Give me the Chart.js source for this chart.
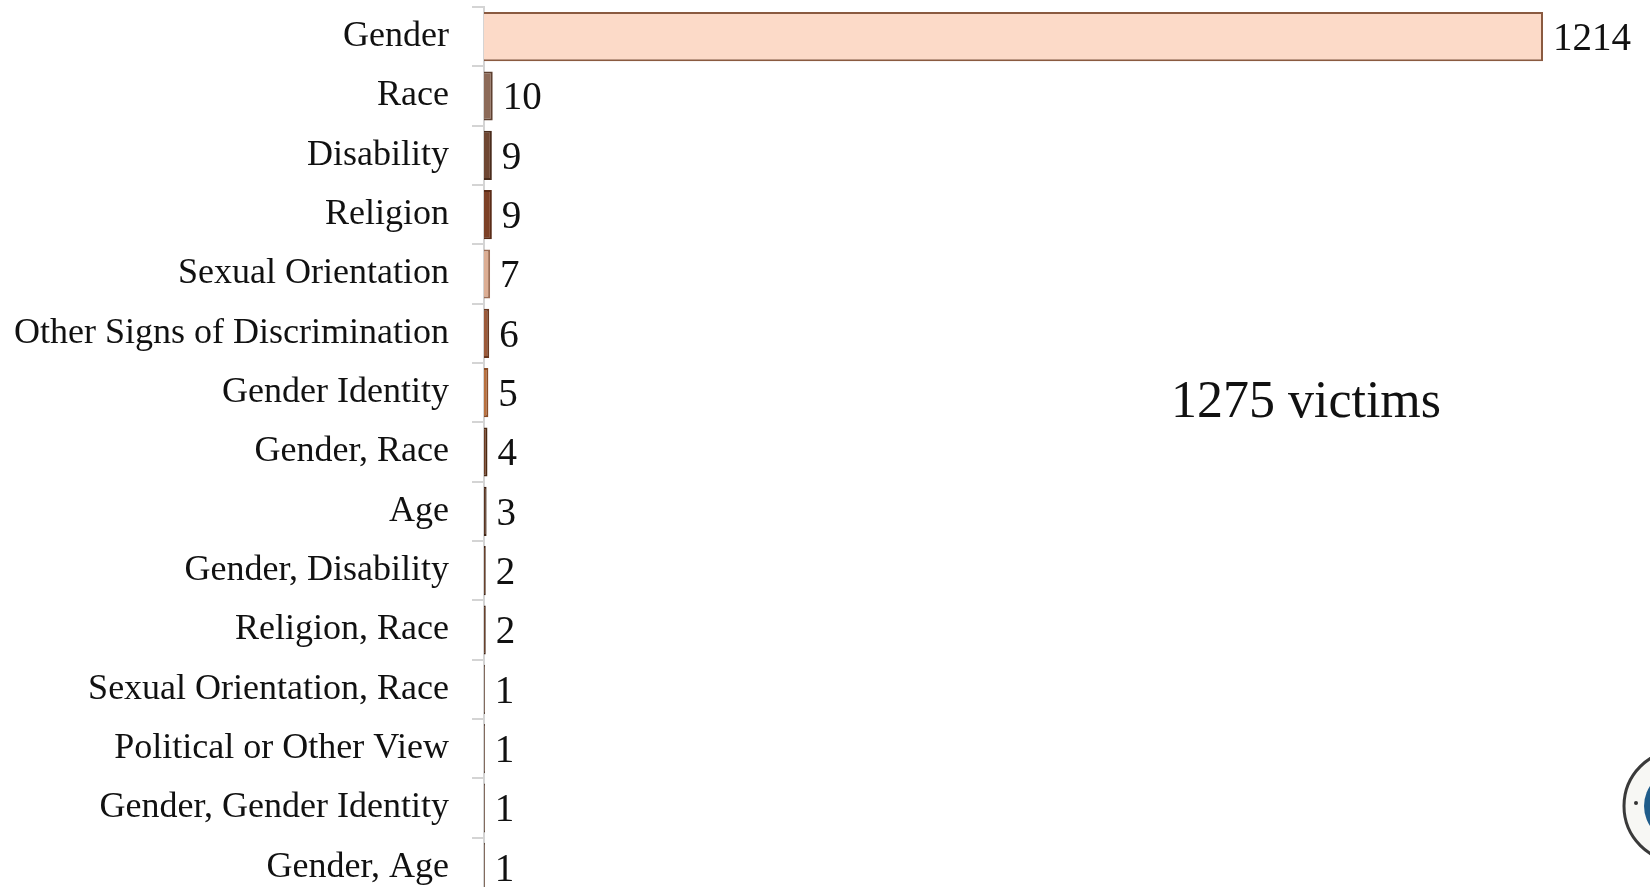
<!DOCTYPE html>
<html>
<head>
<meta charset="utf-8">
<title>Victims by ground of discrimination</title>
<script src="https://cdn.jsdelivr.net/npm/chart.js@4.4.1/dist/chart.umd.min.js"></script>
<style>
  html, body { margin: 0; padding: 0; background: #fff; overflow: hidden; }
  #wrap { width: 1650px; height: 897px; }
</style>
</head>
<body>
<div id="wrap"><canvas id="myChart" width="1650" height="897"></canvas></div>
<script>
/* globals Chart:false */
'use strict'

// categories and counts
const categories = [
  'Gender',
  'Race',
  'Disability',
  'Religion',
  'Sexual Orientation',
  'Other Signs of Discrimination',
  'Gender Identity',
  'Gender, Race',
  'Age',
  'Gender, Disability',
  'Religion, Race',
  'Sexual Orientation, Race',
  'Political or Other View',
  'Gender, Gender Identity',
  'Gender, Age'
]
const victims = [1214, 10, 9, 9, 7, 6, 5, 4, 3, 2, 2, 1, 1, 1, 1]
const totalText = '1275 victims'

// bar tints (the original bars are shaded browns)
const fills = [
  '#fcdac8', '#8c6a58', '#6e4632', '#7c4026', '#dcae94', '#9c5a3a',
  '#b9713f', '#6c3c22', '#5a3420', '#5c3018', '#5c3018', '#5c3018',
  '#5c3018', '#5c3018', '#5c3018'
]
const borders = [
  '#8a5a40', '#5e4030', '#4a2c1c', '#5a2c18', '#9c6e56', '#6a3820',
  '#8a4c26', '#4a2812', '#3e2212', '#3e2212', '#3e2212', '#3e2212',
  '#3e2212', '#3e2212', '#3e2212'
]

const serif = '"Liberation Serif", "DejaVu Serif", serif'

// value at the end of each bar
const valueLabels = {
  id: 'valueLabels',
  afterDatasetsDraw(chart) {
    const ctx = chart.ctx
    const meta = chart.getDatasetMeta(0)
    ctx.save()
    ctx.font = '39px ' + serif
    ctx.fillStyle = '#111'
    ctx.textAlign = 'left'
    ctx.textBaseline = 'middle'
    meta.data.forEach((bar, i) => {
      ctx.fillText(String(victims[i]), bar.x + 10, bar.y + 3)
    })
    ctx.restore()
  }
}

// the total, and the partly hidden seal at the bottom right
const extras = {
  id: 'extras',
  afterDraw(chart) {
    const ctx = chart.ctx
    ctx.save()
    ctx.font = '52px ' + serif
    ctx.fillStyle = '#111'
    ctx.textAlign = 'center'
    ctx.textBaseline = 'middle'
    ctx.fillText(totalText, 1306, 403)

    ctx.beginPath()
    ctx.arc(1680, 806, 56, 0, Math.PI * 2)
    ctx.fillStyle = '#f7f7f4'
    ctx.fill()
    ctx.lineWidth = 3
    ctx.strokeStyle = '#3a3a3a'
    ctx.stroke()
    ctx.beginPath()
    ctx.arc(1680, 806, 36, 0, Math.PI * 2)
    ctx.fillStyle = '#1f5c8a'
    ctx.fill()
    ctx.beginPath()
    ctx.arc(1636, 803, 2, 0, Math.PI * 2)
    ctx.fillStyle = '#333'
    ctx.fill()
    ctx.restore()
  }
}

const ctx = document.getElementById('myChart')
// eslint-disable-next-line no-unused-vars
const myChart = new Chart(ctx, {
  type: 'bar',
  data: {
    labels: categories,
    datasets: [{
      data: victims,
      backgroundColor: fills,
      borderColor: borders,
      borderWidth: 2,
      barPercentage: 0.83,
      categoryPercentage: 1
    }]
  },
  plugins: [valueLabels, extras],
  options: {
    indexAxis: 'y',
    responsive: false,
    animation: false,
    layout: {
      padding: { top: 7, right: 107, bottom: 0, left: 0 }
    },
    scales: {
      x: {
        display: false,
        min: 0,
        max: 1214
      },
      y: {
        afterFit(scale) {
          scale.width = 484
          scale.paddingTop = 0
          scale.paddingBottom = 0
        },
        border: { display: true, color: '#d4d4d4', width: 2 },
        grid: {
          offset: true,
          drawOnChartArea: false,
          drawTicks: true,
          tickLength: 12,
          color: '#d4d4d4',
          lineWidth: 2
        },
        ticks: {
          color: '#111',
          padding: 23,
          font: { family: serif, size: 36 }
        }
      }
    },
    plugins: {
      legend: { display: false },
      tooltip: { enabled: false }
    }
  }
})
</script>
</body>
</html>
